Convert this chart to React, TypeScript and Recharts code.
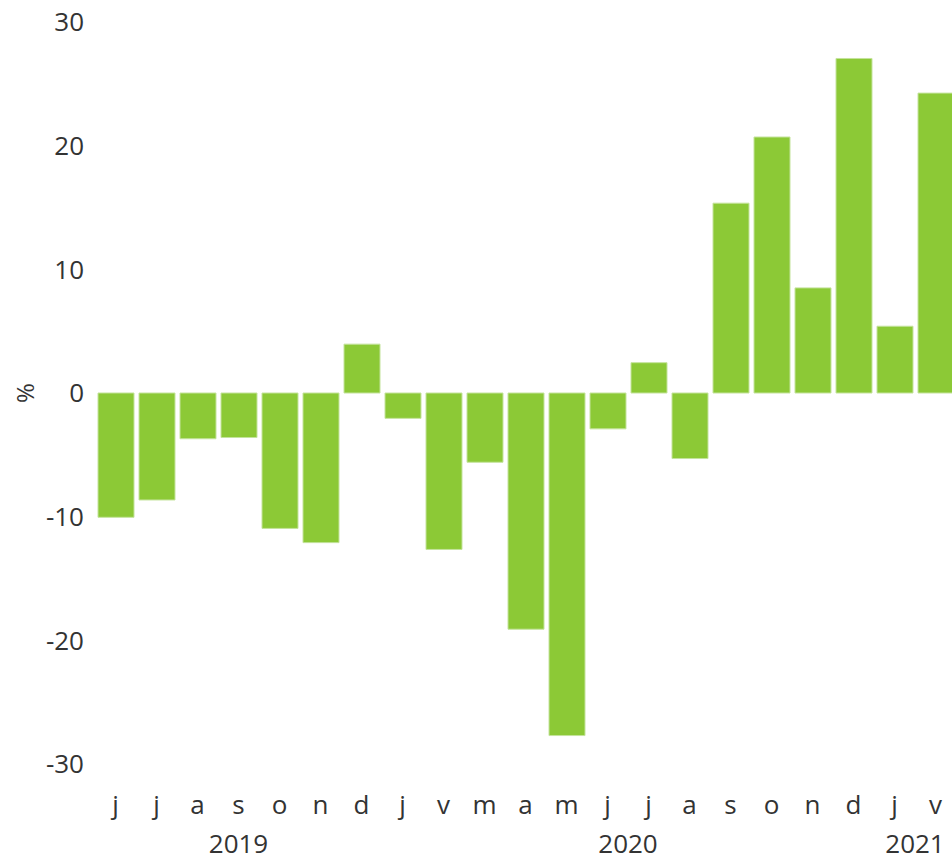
import { BarChart, Bar, XAxis, YAxis } from 'recharts'

const MONTHS = ['j', 'j', 'a', 's', 'o', 'n', 'd', 'j', 'v', 'm', 'a', 'm', 'j', 'j', 'a', 's', 'o', 'n', 'd', 'j', 'v']
const VALUES = [-10.05, -8.65, -3.7, -3.6, -10.95, -12.1, 3.95, -2.05, -12.65, -5.6, -19.1, -27.7, -2.9, 2.45, -5.3, 15.35, 20.7, 8.5, 27.05, 5.4, 24.25]
// year label spans, by first and last month index
const YEARS = [
    { label: '2019', first: 0, last: 6 },
    { label: '2020', first: 7, last: 18 },
    { label: '2021', first: 19, last: 20 },
]
const Y_TICKS = [-30, -20, -10, 0, 10, 20, 30]

const TEXT = '#333333'
const FONT = "'Open Sans', sans-serif"

const data = MONTHS.map((m, i) => ({ month: m, idx: i, value: VALUES[i] }))

function MonthTick(props: any) {
    const { x, y, payload, index, width } = props
    const band = width / MONTHS.length
    const year = YEARS.find(yr => yr.first === index)
    return (
        <g>
            <text x={x} y={y} dy={50} textAnchor="middle" fill={TEXT} fontSize={26} fontFamily={FONT}>
                {MONTHS[payload.value]}
            </text>
            {year && (
                <text
                    x={x + ((year.last - year.first) / 2) * band}
                    y={y}
                    dy={89}
                    textAnchor="middle"
                    fill={TEXT}
                    fontSize={26}
                    fontFamily={FONT}
                >
                    {year.label}
                </text>
            )}
        </g>
    )
}

function PercentLabel(props: any) {
    const { viewBox } = props
    const cx = viewBox.x + 24
    const cy = viewBox.y + viewBox.height / 2
    return (
        <text x={cx} y={cy} transform={`rotate(-90 ${cx} ${cy})`} textAnchor="middle" dominantBaseline="central"
            fill={TEXT} fontSize={24} fontFamily={FONT}>
            %
        </text>
    )
}

export default function App() {
    return (
        <div style={{ position: 'absolute', left: 0, top: 0, width: 952, height: 858, overflow: 'hidden', background: '#fff' }}>
            <BarChart width={956} height={858} data={data} margin={{ top: 22, right: 0, bottom: 0, left: 0 }} barSize={36}>
                <XAxis
                    dataKey="idx"
                    height={94}
                    axisLine={false}
                    tickLine={false}
                    tickSize={0}
                    tickMargin={0}
                    interval={0}
                    tick={<MonthTick />}
                />
                <YAxis
                    width={95}
                    domain={[-30, 30]}
                    ticks={Y_TICKS}
                    axisLine={false}
                    tickLine={false}
                    tickSize={0}
                    tickMargin={11}
                    tick={{ fill: TEXT, fontSize: 26, fontFamily: FONT }}
                    label={<PercentLabel />}
                />
                <Bar dataKey="value" fill="#8cc936" stroke="#c4e39c" strokeWidth={1} isAnimationActive={false} />
            </BarChart>
        </div>
    )
}
